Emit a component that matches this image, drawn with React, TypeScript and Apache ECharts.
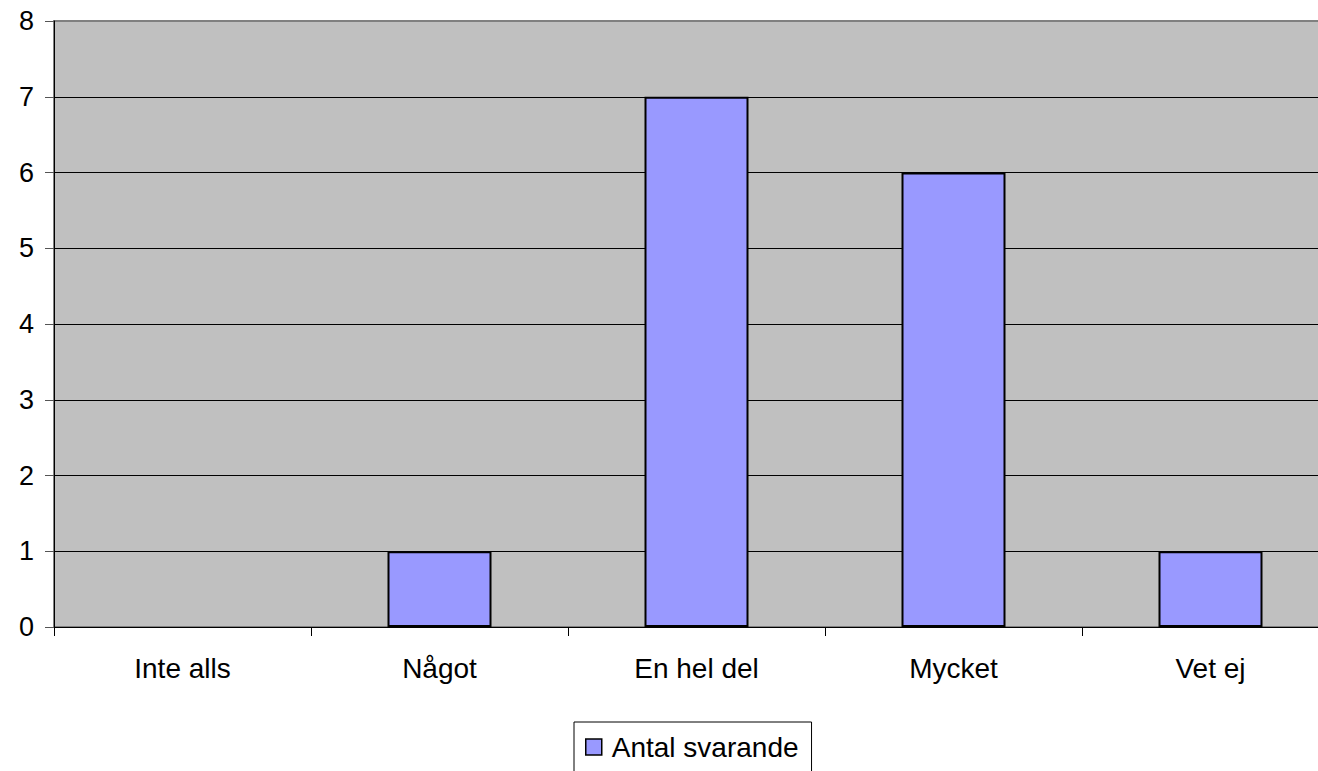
import React, { useEffect, useRef } from "react";
import * as echarts from "echarts";

const categories = ["Inte alls", "Något", "En hel del", "Mycket", "Vet ej"];
const seriesName = "Antal svarande";
const values = [0, 1, 7, 6, 1];
const yMin = 0;
const yMax = 8;
const yInterval = 1;

const FONT = "'Liberation Sans', Arial, Helvetica, sans-serif";

export default function App() {
  const ref = useRef<HTMLDivElement>(null);
  useEffect(() => {
    if (!ref.current) return;
    const chart = echarts.init(ref.current, undefined, { renderer: "svg" });
    const splitColors: string[] = [];
    for (let v = yMin; v <= yMax; v += yInterval) {
      splitColors.push(v === yMax ? "#808080" : "#000000");
    }
    chart.setOption({
      animation: false,
      backgroundColor: "#ffffff",
      textStyle: { fontFamily: FONT },
      grid: {
        left: 54,
        right: 1,
        top: 21,
        bottom: 144,
        show: true,
        backgroundColor: "#C0C0C0",
        borderColor: "#808080",
        borderWidth: 2,
        containLabel: false,
      },
      legend: {
        show: true,
        left: 574,
        top: 722,
        padding: [11, 13, 12, 11],
        borderColor: "#000000",
        borderWidth: 1,
        itemWidth: 16,
        itemHeight: 16,
        icon: "rect",
        selectedMode: false,
        itemStyle: { borderColor: "#000000", borderWidth: 1.5 },
        textStyle: {
          fontFamily: FONT,
          fontSize: 28,
          color: "#000000",
          lineHeight: 28,
          padding: [0, 0, 0, 5],
        },
        data: [seriesName],
      },
      xAxis: {
        type: "category",
        data: categories,
        boundaryGap: true,
        axisLine: { show: true, lineStyle: { color: "#000000", width: 1 } },
        axisTick: { show: true, length: 9, alignWithLabel: false, lineStyle: { color: "#000000" } },
        axisLabel: {
          fontFamily: FONT,
          fontSize: 28,
          color: "#000000",
          margin: 27,
          lineHeight: 28,
        },
        splitLine: { show: false },
      },
      yAxis: {
        type: "value",
        min: yMin,
        max: yMax,
        interval: yInterval,
        axisLine: { show: true, lineStyle: { color: "#000000", width: 1 } },
        axisTick: { show: true, length: 9, lineStyle: { color: "#555555" } },
        axisLabel: {
          fontFamily: FONT,
          fontSize: 27,
          color: "#000000",
          margin: 20,
        },
        splitLine: { show: true, lineStyle: { color: splitColors, width: 1 } },
      },
      series: [
        {
          name: seriesName,
          type: "bar",
          data: values.map((v) =>
            v === 0 ? { value: v, itemStyle: { borderWidth: 0, opacity: 0 } } : v
          ),
          barWidth: 104,
          itemStyle: {
            color: "#9999FF",
            borderColor: "#000000",
            borderWidth: 2,
          },
        },
      ],
    });
    return () => chart.dispose();
  }, []);
  return (
    <div
      style={{
        position: "absolute",
        left: 0,
        top: 0,
        width: 1318,
        height: 771,
        overflow: "hidden",
      }}
    >
      <div ref={ref} style={{ width: 1340, height: 771 }} />
    </div>
  );
}
